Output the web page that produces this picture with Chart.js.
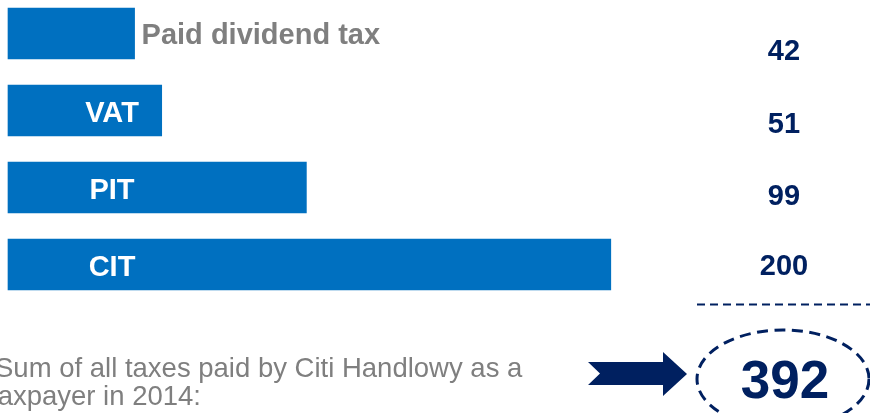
<!DOCTYPE html>
<html>
<head>
<meta charset="utf-8">
<style>
  html, body { margin: 0; padding: 0; background: #ffffff; overflow: hidden; }
  #wrap { position: relative; width: 870px; height: 413px; }
</style>
<script src="https://cdn.jsdelivr.net/npm/chart.js@4/dist/chart.umd.min.js"></script>
</head>
<body>
<div id="wrap"><canvas id="taxChart"></canvas></div>
<script>
// Taxes paid in 2014 (PLN m), listed top to bottom
const categories = ['Paid dividend tax', 'VAT', 'PIT', 'CIT'];
const taxValues = [42, 51, 99, 200];
const totalCaption = ['Sum of all taxes paid by Citi Handlowy as a', 'taxpayer in 2014:'];

const BLUE = '#0070C0';
const NAVY = '#002060';
const GREY = '#7F7F7F';
const FONT = '"Liberation Sans", Arial, Helvetica, sans-serif';

const totalTaxes = taxValues.reduce((a, b) => a + b, 0);

// Category names on the bars and the value column on the right
const taxLabels = {
  id: 'taxLabels',
  afterDatasetsDraw(chart, args, opts) {
    const ctx = chart.ctx;
    const meta = chart.getDatasetMeta(0);
    ctx.save();
    ctx.textBaseline = 'alphabetic';
    meta.data.forEach((bar, i) => {
      const p = bar.getProps(['x', 'y', 'base'], true);
      const name = categories[i];
      ctx.font = 'bold 29px ' + FONT;
      const w = ctx.measureText(name).width;
      const cx = p.base + opts.nameCenter;
      if (cx + w / 2 + 6 < p.x) {
        ctx.fillStyle = '#ffffff';
        ctx.textAlign = 'center';
        ctx.fillText(name, cx, p.y + opts.nameDrop);
      } else {
        ctx.fillStyle = GREY;
        ctx.textAlign = 'left';
        ctx.fillText(name, p.x + 7, p.y + opts.nameDrop - 1);
      }
      ctx.fillStyle = NAVY;
      ctx.textAlign = 'center';
      ctx.font = 'bold 29px ' + FONT;
      ctx.fillText(String(taxValues[i]), opts.valueX, p.y + opts.valueDrop[i]);
    });
    ctx.restore();
  }
};

// Summary row: rule, caption, arrow and circled total
const totalRow = {
  id: 'totalRow',
  afterDraw(chart) {
    const ctx = chart.ctx;
    ctx.save();

    // dashed rule under the value column
    ctx.strokeStyle = NAVY;
    ctx.lineWidth = 2;
    ctx.setLineDash([8, 5]);
    ctx.beginPath();
    ctx.moveTo(697, 304.5);
    ctx.lineTo(870, 304.5);
    ctx.stroke();

    // caption
    ctx.setLineDash([]);
    ctx.fillStyle = GREY;
    ctx.font = '27.5px ' + FONT;
    ctx.textAlign = 'left';
    ctx.textBaseline = 'alphabetic';
    ctx.fillText(totalCaption[0], -5, 377);
    ctx.fillText(totalCaption[1], -10, 405);

    // notched arrow
    ctx.fillStyle = NAVY;
    ctx.beginPath();
    ctx.moveTo(588, 362);
    ctx.lineTo(663, 362);
    ctx.lineTo(663, 352);
    ctx.lineTo(687, 374);
    ctx.lineTo(663, 396);
    ctx.lineTo(663, 385);
    ctx.lineTo(588, 385);
    ctx.lineTo(600, 373.5);
    ctx.closePath();
    ctx.fill();

    // dashed ellipse around the total
    ctx.strokeStyle = NAVY;
    ctx.lineWidth = 3;
    ctx.setLineDash([11, 6.5]);
    ctx.beginPath();
    ctx.ellipse(783, 379, 86, 49, 0, 0, Math.PI * 2);
    ctx.stroke();

    ctx.setLineDash([]);
    ctx.fillStyle = NAVY;
    ctx.font = 'bold 53px ' + FONT;
    ctx.textAlign = 'center';
    ctx.fillText(String(totalTaxes), 785, 398);

    ctx.restore();
  }
};

new Chart(document.getElementById('taxChart'), {
  type: 'bar',
  data: {
    labels: categories,
    datasets: [{
      data: taxValues,
      backgroundColor: BLUE,
      borderWidth: 0,
      barThickness: 51,
      clip: false
    }]
  },
  options: {
    indexAxis: 'y',
    responsive: true,
    maintainAspectRatio: false,
    animation: false,
    layout: { padding: { left: 8, right: 0, top: 33.5, bottom: 148.5 } },
    scales: {
      x: { display: false, min: 0, max: 286 },
      y: { display: false, offset: false }
    },
    plugins: {
      legend: { display: false },
      tooltip: { enabled: false },
      taxLabels: {
        nameCenter: 104,
        nameDrop: 11.5,
        valueX: 784,
        valueDrop: [26.5, 22.5, 17.5, 10.5]
      }
    }
  },
  plugins: [taxLabels, totalRow]
});
</script>
</body>
</html>
